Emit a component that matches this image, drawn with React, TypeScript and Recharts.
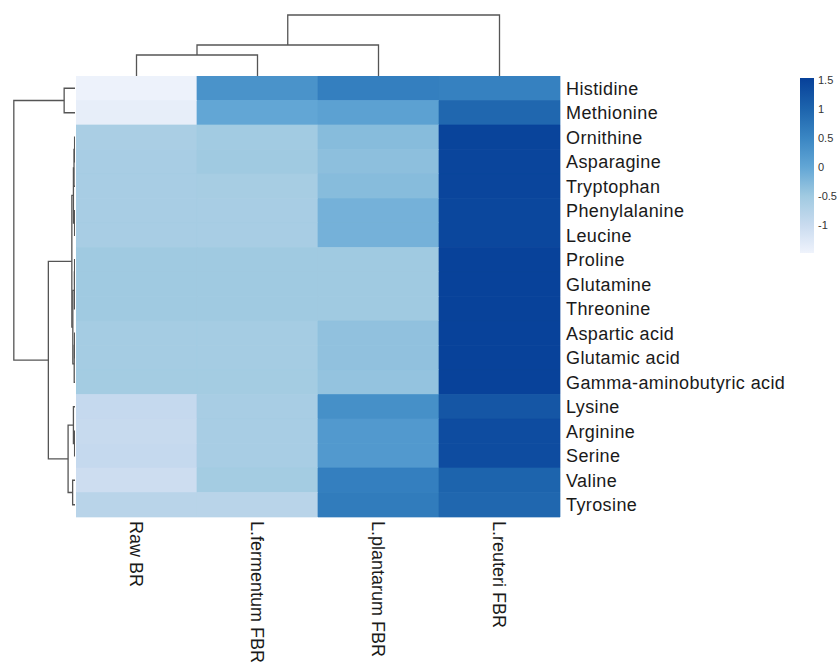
import { BarChart, Bar, Cell, XAxis, YAxis, ScatterChart, Scatter } from "recharts"

const samples = ["Raw BR", "L.fermentum FBR", "L.plantarum FBR", "L.reuteri FBR"]

const aminoAcids = [
  "Histidine", "Methionine", "Ornithine", "Asparagine", "Tryptophan", "Phenylalanine",
  "Leucine", "Proline", "Glutamine", "Threonine", "Aspartic acid", "Glutamic acid",
  "Gamma-aminobutyric acid", "Lysine", "Arginine", "Serine", "Valine", "Tyrosine",
]

// z-scores per amino acid, one array per sample
const rawBR = [-1.47, -1.4, -0.62, -0.6, -0.6, -0.6, -0.6, -0.5, -0.5, -0.5, -0.56, -0.56, -0.55, -0.95, -0.97, -0.95, -1.05, -0.8]
const lFermentum = [0.3, 0.0, -0.52, -0.5, -0.58, -0.6, -0.6, -0.5, -0.5, -0.5, -0.56, -0.56, -0.55, -0.6, -0.6, -0.6, -0.55, -0.8]
const lPlantarum = [0.6, 0.08, -0.3, -0.35, -0.3, -0.15, -0.15, -0.5, -0.5, -0.5, -0.38, -0.38, -0.4, 0.35, 0.2, 0.2, 0.6, 0.65]
const lReuteri = [0.57, 0.95, 1.47, 1.46, 1.46, 1.42, 1.42, 1.5, 1.5, 1.5, 1.5, 1.5, 1.5, 1.2, 1.35, 1.35, 1.0, 0.95]

// hclust-style merges: negative = leaf (1-based), positive = earlier merge, then height
const rowMerges: [number, number, number][] = [
  [-3, -4, 0.02],
  [-6, -7, 0.02],
  [1, -5, 0.05],
  [3, 2, 0.08],
  [-8, -9, 0.02],
  [5, -10, 0.03],
  [-11, -12, 0.02],
  [7, -13, 0.04],
  [6, 8, 0.11],
  [4, 9, 0.16],
  [-15, -16, 0.02],
  [-14, 11, 0.08],
  [-17, -18, 0.12],
  [12, 13, 0.35],
  [10, 14, 1.35],
  [-1, -2, 0.55],
  [16, 15, 3.1],
]
const colMerges: [number, number, number][] = [
  [-1, -2, 1.05],
  [1, -3, 1.55],
  [2, -4, 3.05],
]

const scaleValues = [-1.5, -1, -0.5, 0, 0.5, 1, 1.5]
const scaleColors = ["#EFF3FC", "#C9DBEF", "#A0CAE1", "#62A6D5", "#3A86C3", "#1D64AD", "#08429A"]
const legendTicks = [-1, -0.5, 0, 0.5, 1, 1.5]
const legendRange: [number, number] = [-1.48, 1.53]

const FONT = "'Liberation Sans', Arial, Helvetica, sans-serif"
const LINE = "#555555"

function hex(c: string) {
  return [1, 3, 5].map((i) => parseInt(c.slice(i, i + 2), 16))
}

function colorFor(v: number) {
  if (v <= scaleValues[0]) return scaleColors[0]
  for (let i = 1; i < scaleValues.length; i++) {
    if (v <= scaleValues[i]) {
      const t = (v - scaleValues[i - 1]) / (scaleValues[i] - scaleValues[i - 1])
      const a = hex(scaleColors[i - 1])
      const b = hex(scaleColors[i])
      const m = a.map((x, k) => Math.round(x + (b[k] - x) * t))
      return `rgb(${m[0]},${m[1]},${m[2]})`
    }
  }
  return scaleColors[scaleColors.length - 1]
}

// turns merges into U-shaped paths: {p: leaf position, h: merge height}
function dendroPaths(merges: [number, number, number][]) {
  const pos: number[] = []
  const hgt: number[] = []
  const node = (id: number) => (id < 0 ? { p: -id - 0.5, h: 0 } : { p: pos[id - 1], h: hgt[id - 1] })
  return merges.map(([a, b, h], k) => {
    const A = node(a)
    const B = node(b)
    pos[k] = (A.p + B.p) / 2
    hgt[k] = h
    return [
      { p: A.p, h: A.h },
      { p: A.p, h },
      { p: B.p, h },
      { p: B.p, h: B.h },
    ]
  })
}

const matrix = [rawBR, lFermentum, lPlantarum, lReuteri]
const heatData = samples.map((sample) => {
  const row: Record<string, any> = { sample }
  aminoAcids.forEach((_, i) => (row[`r${i}`] = 1))
  return row
})

const noDot = () => <g />

function ColTick({ x, y, payload }: any) {
  return (
    <text
      x={x}
      y={y}
      transform={`rotate(90 ${x} ${y})`}
      dy="0.35em"
      textAnchor="start"
      fontSize={18}
      fill="#1a1a1a"
    >
      {payload.value}
    </text>
  )
}

export default function App() {
  const rowPaths = dendroPaths(rowMerges)
  const colPaths = dendroPaths(colMerges)
  // gradient runs top (high) to bottom (low), offsets must increase
  const gradStops = scaleValues
    .map((v, i) => ({
      offset: Math.min(1, Math.max(0, (legendRange[1] - v) / (legendRange[1] - legendRange[0]))),
      color: scaleColors[i],
    }))
    .reverse()

  return (
    <div style={{ position: "absolute", left: 0, top: 0, width: 839, height: 666, background: "#fff", fontFamily: FONT }}>
      {/* column dendrogram */}
      <div style={{ position: "absolute", left: 76, top: 0 }}>
        <ScatterChart width={484} height={76} margin={{ top: 0, right: 0, bottom: 0, left: 0 }}>
          <XAxis type="number" dataKey="p" domain={[0, 4]} hide />
          <YAxis type="number" dataKey="h" domain={[0, 3.8]} hide />
          {colPaths.map((d, i) => (
            <Scatter key={i} data={d} line={{ stroke: LINE, strokeWidth: 1.3 }} shape={noDot} isAnimationActive={false} />
          ))}
        </ScatterChart>
      </div>

      {/* row dendrogram */}
      <div style={{ position: "absolute", left: 0, top: 76 }}>
        <ScatterChart width={75} height={441} margin={{ top: 0, right: 0, bottom: 0, left: 0 }}>
          <XAxis type="number" dataKey="h" domain={[0, 3.8]} reversed hide />
          <YAxis type="number" dataKey="p" domain={[0, 18]} reversed hide />
          {rowPaths.map((d, i) => (
            <Scatter key={i} data={d} line={{ stroke: LINE, strokeWidth: 1.3 }} shape={noDot} isAnimationActive={false} />
          ))}
        </ScatterChart>
      </div>

      {/* heatmap */}
      <div style={{ position: "absolute", left: 76, top: 76 }}>
        <BarChart
          width={724}
          height={590}
          data={heatData}
          barCategoryGap={0}
          barGap={0}
          margin={{ top: 0, right: 0, bottom: 0, left: 0 }}
        >
          <XAxis
            dataKey="sample"
            type="category"
            height={149}
            interval={0}
            axisLine={false}
            tickLine={false}
            tickSize={0}
            tickMargin={4}
            tick={<ColTick />}
          />
          <YAxis
            type="number"
            orientation="right"
            width={240}
            domain={[0, 18]}
            reversed
            ticks={aminoAcids.map((_, i) => i + 0.5)}
            interval={0}
            tickFormatter={(v) => aminoAcids[Math.floor(v)]}
            axisLine={false}
            tickLine={false}
            tickSize={0}
            tickMargin={6}
            tick={{ fontSize: 18, fill: "#1a1a1a", letterSpacing: 0.4, textAnchor: "start" }}
          />
          {aminoAcids.map((name, i) => (
            <Bar key={name} dataKey={`r${i}`} stackId="cells" name={name} isAnimationActive={false}>
              {samples.map((s, j) => (
                <Cell key={s} fill={colorFor(matrix[j][i])} stroke={colorFor(matrix[j][i])} strokeWidth={0.7} />
              ))}
            </Bar>
          ))}
        </BarChart>
      </div>

      {/* colour key */}
      <div style={{ position: "absolute", left: 800, top: 68 }}>
        <BarChart
          width={39}
          height={195}
          data={[{ key: "scale", range: legendRange }]}
          barCategoryGap={0}
          margin={{ top: 10, right: 0, bottom: 10, left: 0 }}
        >
          <defs>
            <linearGradient id="keyGrad" x1="0" y1="0" x2="0" y2="1">
              {gradStops.map((s) => (
                <stop key={s.offset} offset={s.offset} stopColor={s.color} />
              ))}
            </linearGradient>
          </defs>
          <XAxis dataKey="key" type="category" hide />
          <YAxis
            type="number"
            orientation="right"
            width={25}
            domain={legendRange}
            ticks={legendTicks}
            interval={0}
            axisLine={false}
            tickLine={false}
            tickSize={0}
            tickMargin={4}
            tick={{ fontSize: 11, fill: "#333", textAnchor: "start" }}
          />
          <Bar dataKey="range" fill="url(#keyGrad)" isAnimationActive={false} />
        </BarChart>
      </div>
    </div>
  )
}
